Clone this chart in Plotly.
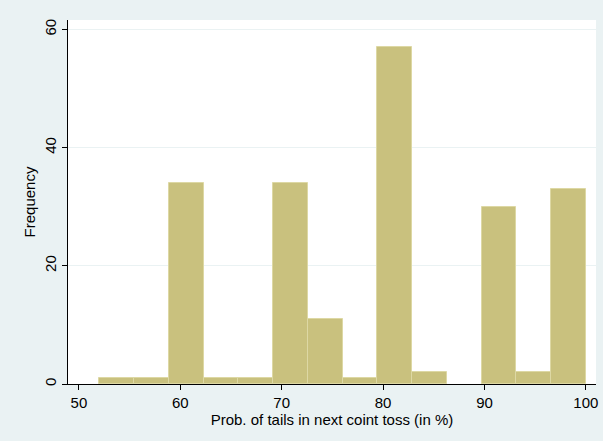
import plotly.graph_objects as go

# Histogram data
bin_start = 52.0
bin_end = 100.0
counts = [1, 1, 34, 1, 1, 34, 11, 1, 57, 2, 0, 30, 2, 33]
x_ticks = [50, 60, 70, 80, 90, 100]
y_ticks = [0, 20, 40, 60]

n = len(counts)
width = (bin_end - bin_start) / n
centers = [bin_start + width * (i + 0.5) for i in range(n)]
outline_w = [0 if c == 0 else 1 for c in counts]

fig = go.Figure(
    go.Bar(
        x=centers,
        y=counts,
        width=[width] * n,
        marker=dict(color="#C9C17E", line=dict(color="#DDD8A4", width=outline_w)),
        hoverinfo="x+y",
    )
)

fig.update_layout(
    width=603,
    height=441,
    margin=dict(l=68, r=5, t=20, b=57),
    paper_bgcolor="#EAF2F3",
    plot_bgcolor="#FFFFFF",
    font=dict(family="Liberation Sans, Arial, sans-serif", size=15, color="#000000"),
    showlegend=False,
    bargap=0,
)

fig.update_xaxes(
    range=[48.92, 101.0],
    tickvals=x_ticks,
    ticks="outside",
    ticklen=5,
    tickcolor="#000000",
    showline=True,
    linecolor="#000000",
    linewidth=1,
    showgrid=False,
    zeroline=False,
    title=dict(text="Prob. of tails in next coint toss (in %)", standoff=0, font=dict(size=15)),
)

fig.update_yaxes(
    range=[0, 61.6],
    tickvals=y_ticks,
    tickangle=-90,
    ticks="outside",
    ticklen=5,
    tickcolor="#000000",
    showline=True,
    linecolor="#000000",
    linewidth=1,
    showgrid=True,
    gridcolor="#EAF2F3",
    gridwidth=1,
    zeroline=False,
    title=dict(text="Frequency", standoff=2, font=dict(size=15)),
)

fig.write_html(
    "out.html",
    config={"displayModeBar": False},
    post_script="document.body.style.margin='0';document.body.style.overflow='hidden';",
)
